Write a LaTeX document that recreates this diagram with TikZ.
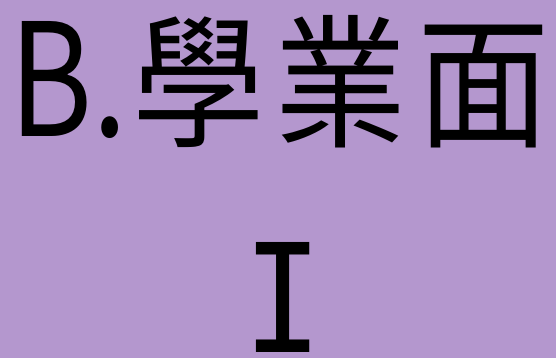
\documentclass[tikz,border=0pt]{standalone}
\usepackage{fontspec}
\newfontfamily\cjk{Noto Sans CJK TC}
\newfontfamily\monofont{DejaVu Sans Mono}
\definecolor{bgpurple}{HTML}{B497CE}
\newcommand\narrowcj[1]{\scalebox{0.92}[1]{#1}}
\tikzset{big/.style={inner sep=0pt, font=\cjk\fontsize{144}{150}\selectfont, text=black},
  numstyle/.style={inner sep=0pt, font=\monofont\fontsize{148}{150}\selectfont, text=black}}
\begin{document}
\begin{tikzpicture}[x=1pt,y=1pt]
\fill[bgpurple] (0,0) rectangle (556,358);
\useasboundingbox (0,0) rectangle (556,358);
\node[big, anchor=base west] (title) at (9,221.5) {\scalebox{0.88}[1.09]{B.}\kern5.2pt\narrowcj{學}\kern9.1pt\narrowcj{業}\kern10.1pt\narrowcj{面}};
\node[numstyle, anchor=base] (num) at (283,5) {\scalebox{0.89}[1.02]{I}};
\end{tikzpicture}
\end{document}
